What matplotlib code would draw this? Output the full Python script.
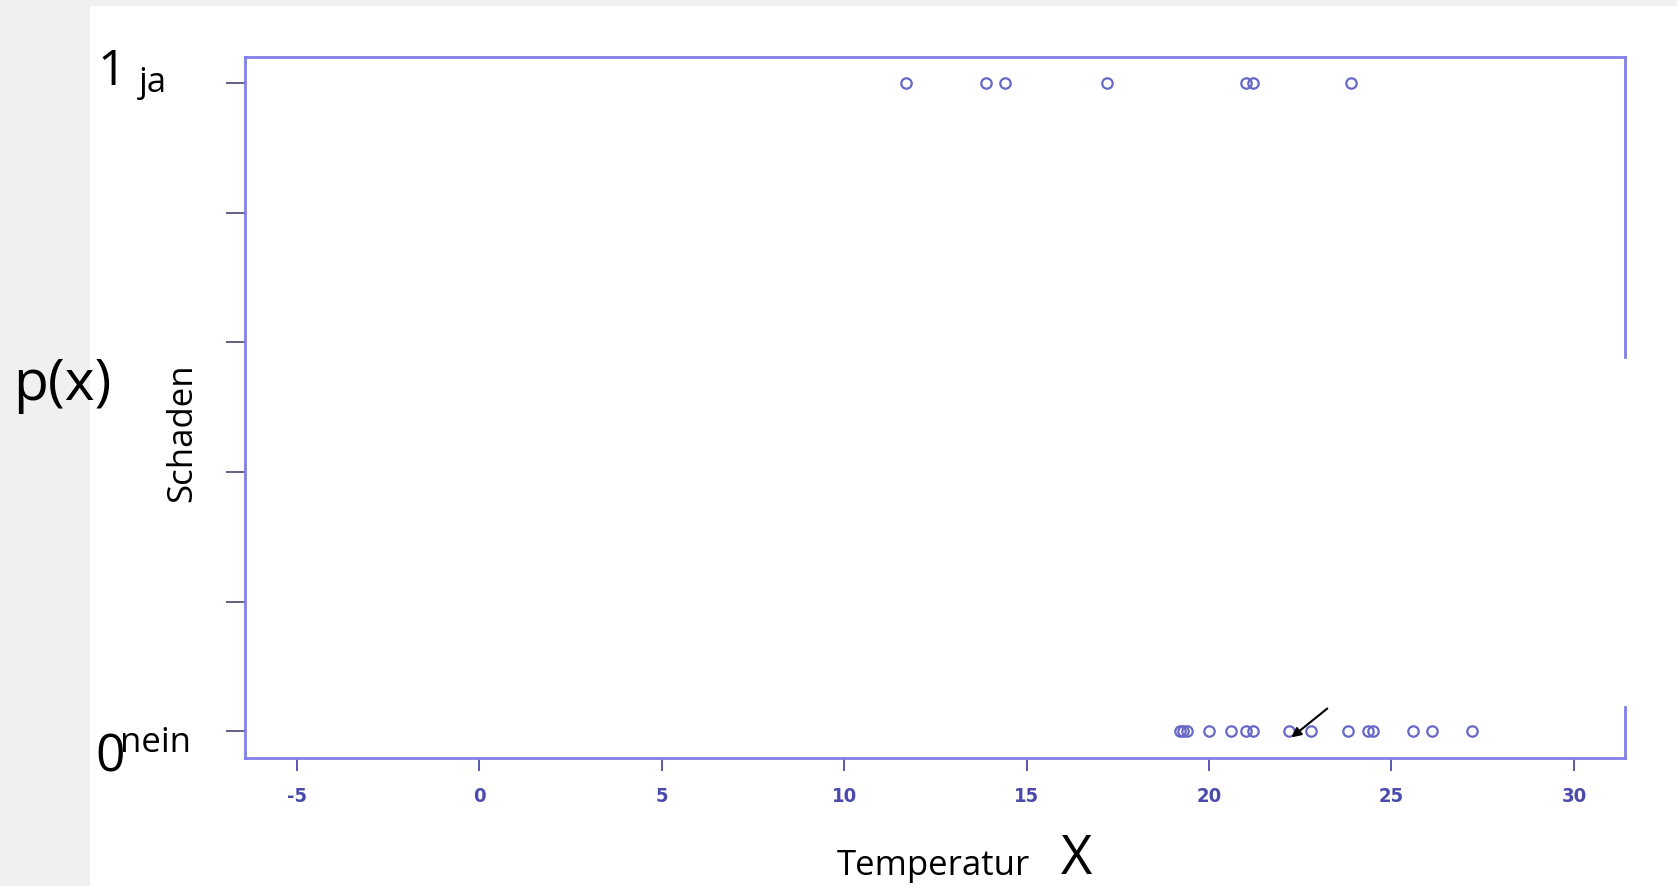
import matplotlib.pyplot as plt
from matplotlib.patches import Rectangle

# Temperaturen (Grad C) mit Schaden (1 = ja) und ohne Schaden (0 = nein)
temp_ja = [11.7, 13.9, 14.4, 17.2, 21.0, 21.2, 23.9]
temp_nein = [19.2, 19.3, 19.4, 20.0, 20.6, 21.0, 21.2, 22.2, 22.8, 23.8, 24.35, 24.5, 25.6, 26.1, 27.2]
x_ticks = [-5, 0, 5, 10, 15, 20, 25, 30]
y_ticks = [0, 0.2, 0.4, 0.6, 0.8, 1.0]

W, H = 1677, 887
blue = "#8080e6"
pt_col = "#6868c8"
lab_col = "#4b4bab"

fig = plt.figure(figsize=(W / 100, H / 100), dpi=100, facecolor="#f0f0f0")
fig.patches.append(Rectangle((90 / W, 0), 1 - 90 / W, 1 - 7 / H,
                             transform=fig.transFigure, facecolor="white",
                             edgecolor="none", zorder=-10))

ax = fig.add_axes([245 / W, 1 - 759 / H, (1625 - 245) / W, (759 - 58) / H])
ax.set_facecolor("white")

ax.plot(temp_ja, [1] * len(temp_ja), "o", mfc="none", mec=pt_col, ms=7.5, mew=1.6)
ax.plot(temp_nein, [0] * len(temp_nein), "o", mfc="none", mec=pt_col, ms=7.5, mew=1.6)

ax.set_xlim(-6.42, 31.4)
ax.set_ylim(-0.041, 1.04)
ax.set_xticks(x_ticks)
ax.set_xticklabels([str(v) for v in x_ticks], color=lab_col, fontsize=14.5,
                   fontweight="bold", family="DejaVu Sans", fontstretch="condensed")
ax.set_yticks(y_ticks)
ax.set_yticklabels([])
ax.tick_params(axis="x", length=9, width=1.3, color=lab_col, pad=11)
ax.tick_params(axis="y", length=14, width=1.3, color="#555577")

for s in ["left", "top", "bottom"]:
    ax.spines[s].set_color(blue)
    ax.spines[s].set_linewidth(2)
ax.spines["right"].set_visible(False)
# rechte Achse mit Lücke
ax.plot([1, 1], [0.572, 1], color=blue, lw=2, transform=ax.transAxes, clip_on=False)
ax.plot([1, 1], [0, 0.073], color=blue, lw=2, transform=ax.transAxes, clip_on=False)

ax.annotate("", xy=(22.2, -0.012), xytext=(23.3, 0.038),
            arrowprops=dict(arrowstyle="-|>", color="black", lw=1.5, mutation_scale=14))

# aufgesetzte Beschriftungen
def px(x, y):
    return x / W, 1 - y / H

fig.text(*px(98, 85), "1", fontsize=36, family="Open Sans", va="baseline", ha="left")
fig.text(*px(139, 92), "ja", fontsize=25, family="Open Sans", va="baseline", ha="left")
fig.text(*px(95, 772), "0", fontsize=37, family="Open Sans", va="baseline", ha="left")
fig.text(*px(120, 752), "nein", fontsize=25, family="Open Sans", va="baseline", ha="left")
fig.text(*px(62, 385), "p(x)", fontsize=41, family="Open Sans", va="center", ha="center")
fig.text(*px(182, 433), "Schaden", fontsize=25, family="Open Sans", va="center",
         ha="center", rotation=90)
fig.text(*px(933, 866), "Temperatur", fontsize=25, family="Open Sans", va="center", ha="center")
fig.text(*px(1076, 860), "X", fontsize=39, family="Open Sans", va="center", ha="center")

fig.savefig("out.png", dpi=100, facecolor=fig.get_facecolor())
